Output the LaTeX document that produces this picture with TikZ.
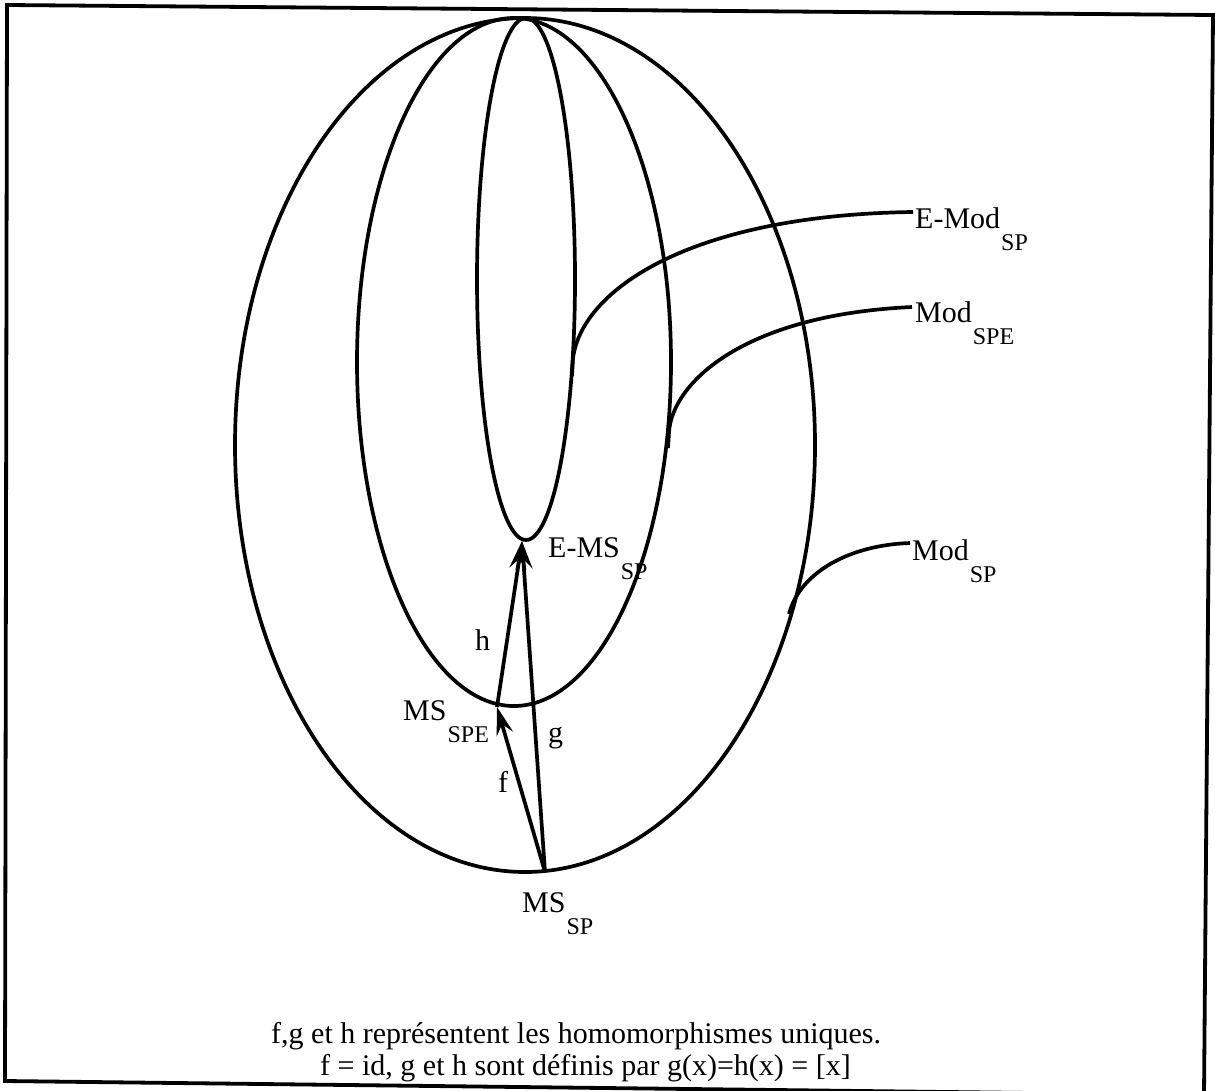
\documentclass[tikz,border=0pt]{standalone}
\usepackage{fontspec}
\setmainfont{Liberation Serif}
\usetikzlibrary{arrows.meta}
\newcommand\mysub[1]{\hspace{1pt}\raisebox{-22pt}{\fontsize{24}{24}\selectfont #1}}
\begin{document}
\begin{tikzpicture}[x=1pt,y=-1pt,
  curve/.style={line width=3.7pt},
  frameline/.style={line width=3.8pt},
  lbl/.style={inner sep=0pt, anchor=base west, font=\fontsize{30}{36}\selectfont},
  arr/.style={line width=3.7pt, -{Stealth[length=28pt,width=17pt,inset=10pt]}},
]
\clip (0,0) rectangle (1215,1090);
\fill[white] (0,0) rectangle (1215,1090);
% frame
\draw[frameline, line join=miter] (7,5) -- (1213,15) -- (1204,1095) -- (5,1081) -- cycle;
% ellipses
\draw[curve] (525,445) ellipse [x radius=290, y radius=427];
\draw[curve] (514,362) ellipse [x radius=157, y radius=344];
\draw[curve] (526,279) ellipse [x radius=49, y radius=261];
% points
\coordinate (pEMS) at (522,541);
\coordinate (pSPE) at (497,707);
\coordinate (pSP) at (545,872);
% arrows
\draw[arr] (pSPE) -- (pEMS);
\draw[arr] (pSP) -- (pSPE);
\draw[arr] (pSP) -- (pEMS);
% labels
\node[lbl] (emod) at (915,228) {E-Mod\mysub{SP}};
\node[lbl] (modspe) at (915,322) {Mod\mysub{SPE}};
\node[lbl] (modsp) at (912,560) {Mod\mysub{SP}};
\node[lbl] (emssp) at (548,557) {E-MS\mysub{SP}};
\node[lbl] (msspe) at (403,720) {MS\mysub{SPE}};
\node[lbl] (mssp) at (522,912) {MS\mysub{SP}};
\node[lbl] (h) at (475,650) {h};
\node[lbl] (g) at (548,742) {g};
\node[lbl] (f) at (498,792) {f};
\node[lbl] (cap1) at (271,1043) {f,g et h représentent les homomorphismes uniques.};
\node[lbl] (cap2) at (320,1075) {f = id, g et h sont définis par g(x)=h(x) = [x]};
% leader lines
\coordinate (a1) at (572,376);
\coordinate (a1e) at (913,212);
\draw[curve] (a1) -- (573,358) .. controls (582,290) and (690,215) .. (a1e);
\coordinate (a2) at (668,448);
\coordinate (a2e) at (912,307);
\draw[curve] (a2) -- (669,432) .. controls (672,385) and (740,315) .. (a2e);
\coordinate (a3) at (789,614);
\coordinate (a3e) at (910,543);
\draw[curve] (a3) .. controls (800,572) and (850,545) .. (a3e);
\end{tikzpicture}
\end{document}
